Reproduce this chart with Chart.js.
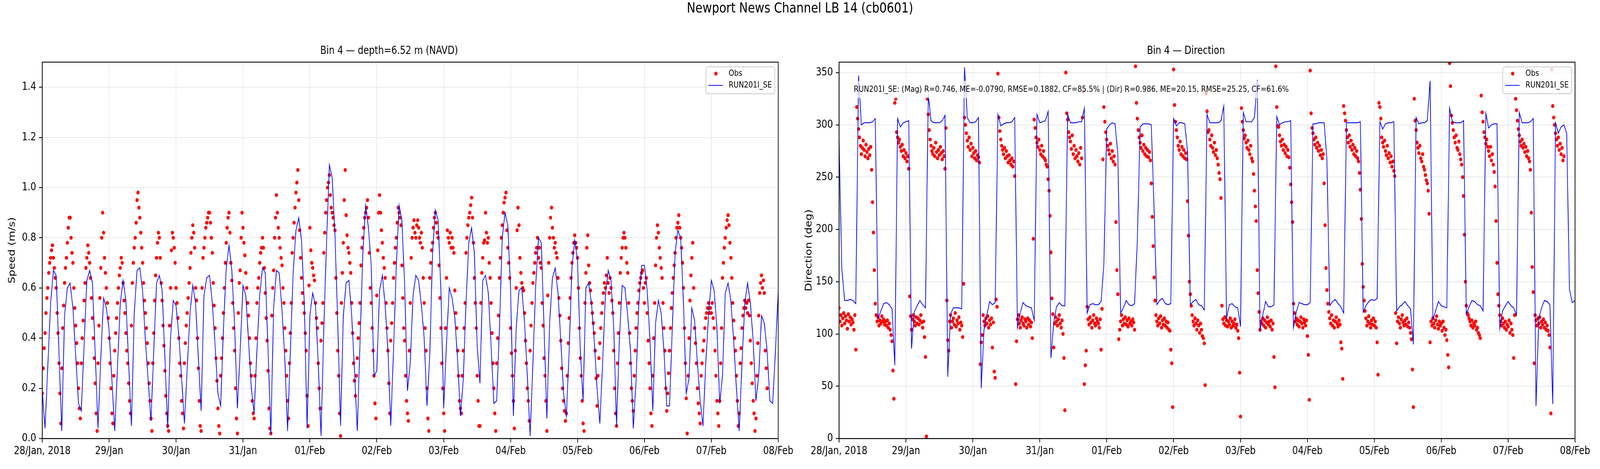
<!DOCTYPE html>
<html>
<head>
<meta charset="utf-8">
<script src="https://cdn.jsdelivr.net/npm/chart.js@4.4.1/dist/chart.umd.min.js"></script>
<style>
  html, body { margin: 0; padding: 0; background: #fff; overflow: hidden; }
  #fig { position: absolute; left: 0; top: 0; width: 5000px; height: 1200px; transform-origin: 0 0; font-family: 'DejaVu Sans', sans-serif; }
  #suptitle { position: absolute; left: 0; top: 0; width: 5000px; height: 40px; line-height: 40px; text-align: center; font-size: 36px; color: #000; z-index: 2; }
  .panel { position: absolute; top: 0; height: 1200px; }
</style>
</head>
<body>
<div id="fig">
  <div id="suptitle">Newport News Channel LB 14 (cb0601)</div>
  <div class="panel" style="left:0; width:2490px;"><canvas id="speedChart" width="2490" height="1200"></canvas></div>
  <div class="panel" style="left:2490px; width:2510px;"><canvas id="dirChart" width="2510" height="1200"></canvas></div>
</div>

<script>
// x axis is hours since 28/Jan/2018 00:00
const tickLabels = ['28/Jan, 2018', '29/Jan', '30/Jan', '31/Jan', '01/Feb', '02/Feb', '03/Feb', '04/Feb', '05/Feb', '06/Feb', '07/Feb', '08/Feb'];
const dayTicks = [0, 24, 48, 72, 96, 120, 144, 168, 192, 216, 240, 264];
const speedTicks = [0, 0.2, 0.4, 0.6, 0.8, 1.0, 1.2, 1.4];
const dirTicks = [0, 50, 100, 150, 200, 250, 300, 350];

const modelStartHour = 0;
const modelStepHours = 1;
const obsStartHour = 0;
const obsStepHours = 1 / 3;

const obsLabel = 'Obs';
const modelLabel = 'RUN201I_SE';
const statsLabel = 'RUN201I_SE: (Mag) R=0.746, ME=-0.0790, RMSE=0.1882, CF=85.5% | (Dir) R=0.986, ME=20.15, RMSE=25.25, CF=61.6%';

// model speed (m/s), hourly
const speedModel = [
  0.19,0.04,0.29,0.54,0.67,0.65,0.34,0.03,0.49,0.60,0.62,0.52,
  0.33,0.14,0.11,0.37,0.63,0.67,0.62,0.34,0.04,0.32,0.56,0.52,
  0.43,0.23,0.03,0.29,0.54,0.63,0.55,0.30,0.05,0.50,0.67,0.68,
  0.59,0.39,0.23,0.07,0.35,0.62,0.65,0.59,0.32,0.04,0.40,0.55,
  0.53,0.41,0.24,0.06,0.28,0.50,0.61,0.54,0.32,0.11,0.57,0.64,
  0.65,0.54,0.37,0.18,0.13,0.44,0.68,0.77,0.67,0.45,0.12,0.35,
  0.61,0.57,0.39,0.20,0.10,0.35,0.57,0.68,0.66,0.35,0.02,0.52,
  0.67,0.66,0.51,0.32,0.03,0.35,0.66,0.83,0.88,0.79,0.54,0.04,
  0.49,0.58,0.53,0.30,0.01,0.44,0.79,1.09,1.04,0.81,0.46,0.05,
  0.49,0.62,0.63,0.49,0.27,0.03,0.39,0.74,0.93,0.84,0.69,0.25,
  0.27,0.59,0.65,0.53,0.35,0.05,0.35,0.69,0.93,0.87,0.61,0.19,
  0.30,0.57,0.65,0.63,0.53,0.40,0.13,0.33,0.74,0.91,0.87,0.59,
  0.12,0.38,0.60,0.56,0.48,0.31,0.09,0.23,0.54,0.78,0.84,0.74,
  0.37,0.22,0.63,0.65,0.58,0.37,0.14,0.15,0.44,0.80,0.90,0.85,
  0.59,0.09,0.44,0.59,0.60,0.46,0.25,0.01,0.30,0.61,0.80,0.78,
  0.44,0.08,0.46,0.64,0.68,0.58,0.39,0.18,0.09,0.35,0.68,0.79,
  0.71,0.35,0.15,0.60,0.62,0.54,0.39,0.20,0.06,0.30,0.57,0.67,
  0.63,0.44,0.05,0.39,0.61,0.60,0.49,0.35,0.04,0.23,0.54,0.69,
  0.69,0.59,0.39,0.11,0.46,0.55,0.50,0.35,0.13,0.13,0.44,0.74,
  0.83,0.80,0.54,0.18,0.24,0.52,0.47,0.30,0.15,0.05,0.30,0.49,
  0.63,0.59,0.44,0.14,0.25,0.58,0.62,0.55,0.39,0.20,0.03,0.30,
  0.54,0.62,0.54,0.39,0.15,0.25,0.49,0.46,0.35,0.15,0.14,0.35,
  0.59
];

// observed speed (m/s), every 20 min
const speedObs = [
  0.18,0.28,0.36, 0.42,0.5,0.56, 0.6,0.66,0.7, 0.72,0.75,0.77, 0.72,0.68,0.64, 0.6,0.5,0.42,
  0.3,0.18,0.06, 0.28,0.44,0.53, 0.62,0.68,0.72, 0.78,0.84,0.88, 0.88,0.8,0.74, 0.7,0.6,0.52,
  0.45,0.38,0.3, 0.2,0.12,0.08, 0.3,0.4,0.47, 0.55,0.62,0.68, 0.72,0.77,0.74, 0.7,0.64,0.56,
  0.48,0.4,0.32, 0.22,0.1,0.03, 0.3,0.45,0.56, 0.68,0.8,0.9, 0.82,0.72,0.66, 0.6,0.54,0.48,
  0.4,0.3,0.2, 0.1,0.06,0.25, 0.35,0.42,0.48, 0.54,0.6,0.65, 0.68,0.72,0.7, 0.62,0.55,0.5,
  0.42,0.35,0.3, 0.22,0.15,0.1, 0.45,0.62,0.7, 0.76,0.8,0.86, 0.95,0.98,0.92, 0.88,0.82,0.76,
  0.7,0.62,0.55, 0.5,0.44,0.38, 0.3,0.22,0.15, 0.08,0.03,0.3, 0.42,0.55,0.65, 0.72,0.78,0.82,
  0.8,0.72,0.62, 0.55,0.45,0.37, 0.27,0.17,0.1, 0.05,0.03,0.45, 0.6,0.75,0.82, 0.8,0.76,0.7,
  0.6,0.54,0.48, 0.4,0.3,0.25, 0.15,0.1,0.04, 0.3,0.38,0.45, 0.5,0.56,0.62, 0.68,0.74,0.8,
  0.85,0.82,0.76, 0.6,0.55,0.4, 0.28,0.15,0.05, 0.03,0.6,0.72, 0.76,0.8,0.84, 0.86,0.88,0.9,
  0.9,0.86,0.8, 0.74,0.62,0.53, 0.44,0.32,0.23, 0.12,0.05,0.02, 0.25,0.32,0.4, 0.5,0.6,0.7,
  0.78,0.84,0.88, 0.9,0.82,0.7, 0.63,0.54,0.44, 0.35,0.2,0.08, 0.02,0.5,0.62, 0.67,0.8,0.9,
  0.84,0.78,0.73, 0.66,0.6,0.54, 0.49,0.4,0.3, 0.25,0.15,0.1, 0.08,0.25,0.4, 0.54,0.6,0.64,
  0.7,0.74,0.76, 0.8,0.76,0.68, 0.58,0.48,0.39, 0.27,0.12,0.04, 0.02,0.49,0.6, 0.67,0.8,0.88,
  0.97,0.9,0.84, 0.8,0.76,0.72, 0.69,0.6,0.54, 0.44,0.35,0.25, 0.15,0.08,0.3, 0.42,0.54,0.74,
  0.8,0.86,0.92, 0.98,1.02,1.07, 0.95,0.83,0.72, 0.64,0.58,0.54, 0.5,0.42,0.35, 0.17,0.05,0.61,
  0.84,0.75,0.7, 0.68,0.65,0.63, 0.54,0.48,0.44, 0.3,0.2,0.12, 0.39,0.46,0.54, 0.74,0.82,0.9,
  0.95,1.0,1.02, 1.05,0.97,0.92, 0.9,0.88,0.85, 0.83,0.64,0.5, 0.35,0.25,0.1, 0.01,0.54,0.66,
  0.78,0.95,1.07, 0.89,0.81,0.76, 0.74,0.7,0.66, 0.54,0.42,0.3, 0.23,0.17,0.25, 0.32,0.4,0.46,
  0.54,0.69,0.76, 0.8,0.84,0.88, 0.9,0.92,0.95, 0.88,0.74,0.6, 0.54,0.44,0.35, 0.25,0.14,0.08,
  0.57,0.75,0.9, 0.97,0.9,0.83, 0.78,0.72,0.68, 0.64,0.54,0.44, 0.35,0.22,0.1, 0.39,0.46,0.54,
  0.64,0.7,0.76, 0.8,0.86,0.92, 0.9,0.88,0.85, 0.69,0.56,0.44, 0.39,0.25,0.15, 0.1,0.07,0.35,
  0.54,0.72,0.8, 0.84,0.87,0.82, 0.8,0.85,0.87, 0.84,0.8,0.78, 0.82,0.76,0.64, 0.54,0.44,0.35,
  0.2,0.08,0.03, 0.64,0.7,0.75, 0.78,0.84,0.88, 0.9,0.86,0.82, 0.8,0.69,0.56, 0.44,0.3,0.2,
  0.1,0.03,0.44, 0.64,0.83,0.8, 0.78,0.82,0.76, 0.8,0.76,0.74, 0.59,0.5,0.44, 0.35,0.25,0.15,
  0.12,0.1,0.25, 0.35,0.44,0.54, 0.74,0.8,0.85, 0.88,0.9,0.93, 0.96,0.88,0.78, 0.64,0.54,0.44,
  0.25,0.15,0.05, 0.05,0.54,0.66, 0.72,0.78,0.79, 0.9,0.82,0.78, 0.8,0.7,0.64, 0.54,0.42,0.3,
  0.2,0.1,0.03, 0.3,0.4,0.49, 0.64,0.72,0.8, 0.85,0.9,0.94, 0.96,0.98,0.83, 0.76,0.7,0.64,
  0.44,0.34,0.25, 0.15,0.04,0.35, 0.6,0.83,0.92, 0.85,0.72,0.66, 0.62,0.6,0.59, 0.5,0.39,0.3,
  0.2,0.15,0.07, 0.35,0.45,0.54, 0.62,0.66,0.7, 0.74,0.76,0.8, 0.72,0.76,0.7, 0.68,0.54,0.45,
  0.32,0.25,0.15, 0.03,0.57,0.7, 0.8,0.88,0.92, 0.84,0.8,0.76, 0.78,0.74,0.72, 0.64,0.56,0.49,
  0.39,0.28,0.2, 0.15,0.11,0.07, 0.1,0.25,0.38, 0.48,0.56,0.64, 0.7,0.74,0.78, 0.81,0.78,0.76,
  0.72,0.6,0.44, 0.32,0.25,0.15, 0.06,0.03,0.54, 0.66,0.76,0.81, 0.69,0.62,0.59, 0.54,0.5,0.46,
  0.42,0.35,0.24, 0.13,0.25,0.32, 0.38,0.44,0.5, 0.54,0.58,0.62, 0.6,0.65,0.72, 0.62,0.58,0.64,
  0.6,0.55,0.5, 0.35,0.2,0.1, 0.05,0.3,0.42, 0.54,0.66,0.72, 0.76,0.8,0.82, 0.8,0.76,0.7,
  0.66,0.54,0.42, 0.3,0.2,0.15, 0.11,0.25,0.35, 0.44,0.5,0.54, 0.59,0.62,0.64, 0.66,0.67,0.6,
  0.54,0.62,0.64, 0.5,0.39,0.3, 0.2,0.1,0.05, 0.25,0.4,0.54, 0.69,0.8,0.85, 0.82,0.76,0.72,
  0.68,0.64,0.54, 0.44,0.35,0.2, 0.11,0.18,0.26, 0.35,0.44,0.52, 0.58,0.64,0.69, 0.74,0.8,0.84,
  0.86,0.89,0.84, 0.8,0.76,0.7, 0.6,0.44,0.3, 0.16,0.02,0.25, 0.4,0.55,0.65, 0.72,0.78,0.6,
  0.44,0.38,0.3, 0.2,0.14,0.1, 0.06,0.25,0.3, 0.35,0.39,0.44, 0.48,0.5,0.52, 0.54,0.5,0.52,
  0.5,0.54,0.48, 0.44,0.35,0.25, 0.15,0.1,0.05, 0.15,0.3,0.44, 0.64,0.7,0.76, 0.8,0.84,0.87,
  0.89,0.85,0.78, 0.72,0.64,0.54, 0.47,0.4,0.35, 0.25,0.15,0.05, 0.1,0.3,0.36, 0.44,0.49,0.52,
  0.55,0.52,0.54, 0.5,0.55,0.49, 0.39,0.3,0.22, 0.15,0.1,0.03, 0.08,0.25,0.38, 0.49,0.58,0.62,
  0.65,0.6,0.63, 0.58,0.35,0.28, 0.2
];

// model direction (deg), hourly
const dirModel = [
  285,162,132,132,133,132,129,347,300,302,302,302,
  303,306,115,122,129,130,128,124,70,306,298,302,
  303,304,86,121,127,132,128,125,329,304,302,302,
  302,304,309,59,119,125,125,125,124,355,307,302,
  302,303,307,48,104,118,131,128,130,310,299,301,
  302,302,303,307,106,120,130,127,126,125,113,310,
  302,303,304,313,77,111,126,130,127,127,310,302,
  302,302,303,303,316,120,128,129,128,128,131,167,
  296,300,302,301,272,120,125,132,128,127,129,190,
  298,301,301,301,300,220,128,132,134,129,128,129,
  306,299,302,302,301,275,128,131,133,128,127,123,
  310,302,302,302,302,304,318,115,128,129,126,125,
  107,312,303,303,303,307,343,104,118,131,126,126,
  128,308,300,302,303,303,304,106,121,130,129,128,
  128,130,301,301,302,302,302,267,127,131,133,129,
  126,120,302,302,302,302,302,303,121,127,131,133,
  132,134,303,296,301,302,302,303,122,126,128,131,
  127,124,90,307,301,302,302,304,342,114,122,131,
  127,126,125,316,303,302,302,302,304,119,126,132,
  131,128,127,122,311,297,300,301,301,105,122,127,
  131,127,125,118,312,302,302,302,303,306,31,115,
  125,132,131,128,33,302,292,298,300,292,143,130,
  132
];

// observed direction (deg), every 20 min
const dirObs = [
  125,112,118, 108,115,120, 110,117,113, 105,119,112, 116,109,114, 111,104,118,
  85,317,306, 296,288,280, 272,278,285, 276,270,281, 274,268,277, 271,279,257,
  226,197,161, 129,118,112, 116,108,113, 110,117,112, 114,109,112, 108,113,106,
  110,104,99, 93,65,38, 321,325,293, 288,283,286, 279,275,281, 270,276,268,
  273,265,270, 258,136,117, 104,114,118, 112,108,116, 110,115,109, 113,118,111,
  106,112,97, 78,2,325, 310,295,286, 280,275,272, 278,270,283, 274,268,276,
  271,279,273, 267,275,270, 258,297,132, 94,84,112, 118,106,112, 115,109,120,
  107,113,110, 116,104,111, 108,97,148, 307,300,292, 285,279,288, 276,282,270,
  278,273,268, 275,266,271, 269,264,71, 92,99,118, 112,108,115, 110,117,106,
  113,109,115, 87,111,64, 58,133,126, 349,307,294, 286,280,276, 272,278,268,
  275,270,264, 271,266,262, 268,260,265, 251,52,93, 114,118,110, 106,113,116,
  110,108,114, 112,106,115, 109,113,107, 111,96,191, 305,297,288, 283,279,286,
  276,272,280, 270,275,268, 266,262,260, 248,237,213, 178,134,119, 87,110,116,
  112,108,114, 118,110,106, 113,100,77, 27,350,311, 305,293,288, 284,277,290,
  272,280,268, 276,270,265, 273,262,278, 268,307,332, 52,70,84, 126,114,109,
  116,111,106, 113,118,110, 108,115,112, 110,106,114, 85,124,267, 317,303,293,
  286,280,276, 272,282,268, 275,265,270, 262,207,161, 138,95,104, 112,118,108,
  114,110,116, 109,113,107, 115,110,112, 108,114,111, 104,356,321, 306,295,288,
  283,278,290, 275,281,272, 278,270,276, 269,274,266, 244,212,184, 154,132,118,
  112,108,115, 110,117,106, 113,109,115, 108,112,106, 111,104,103, 85,72,30,
  353,319,303, 295,288,280, 276,284,272, 279,270,276, 268,273,267, 227,194,150,
  138,127,118, 112,108,115, 110,104,113, 108,101,110, 104,98,96, 91,51,330,
  313,293,295, 286,280,290, 278,274,283, 271,276,268, 262,254,248, 230,127,114,
  110,116,108, 113,107,112, 109,115,106, 112,108,110, 114,106,109, 103,96,63,
  21,316,303, 295,287,290, 283,278,285, 276,272,280, 268,265,253, 237,222,208,
  161,139,121, 104,112,110, 115,108,113, 106,111,116, 109,112,107, 113,104,110,
  78,49,356, 317,299,298, 290,284,280, 286,276,281, 273,279,270, 276,269,259,
  243,226,207, 129,120,112, 115,109,113, 107,112,116, 110,106,114, 111,108,113,
  98,80,37, 352,311,297, 292,286,281, 288,278,283, 275,280,271, 276,268,272,
  244,204,163, 142,129,121, 115,110,118, 108,113,106, 112,116,110, 107,113,109,
  92,86,57, 318,311,304, 295,288,283, 290,279,285, 276,281,272, 278,270,275,
  268,265,254, 238,210,167, 145,132,122, 115,108,112, 117,110,106, 113,109,115,
  108,112,106, 92,61,321, 317,306,288, 283,279,285, 275,271,280, 268,273,264,
  270,260,265, 256,251,120, 91,112,116, 110,106,114, 118,111,108, 113,109,115,
  107,111,106, 101,95,66, 30,325,304, 295,283,278, 273,280,268, 265,272,260,
  257,252,247, 244,237,215, 92,112,108, 115,110,106, 113,117,109, 105,112,108,
  110,103,112, 106,99,104, 94,80,68, 359,337,309, 302,295,288, 283,290,278,
  276,284,272, 267,262,250, 232,195,150, 127,120,118, 115,112,108, 113,106,110,
  108,112,104, 106,101,99, 96,328,312, 303,293,288, 282,286,279, 275,270,279,
  266,272,262, 255,241,208, 168,138,127, 118,112,108, 115,110,106, 112,104,109,
  107,113,101, 110,104,99, 77,118,325, 314,304,296, 290,284,280, 286,278,282,
  274,279,270, 275,268,265, 257,216,164, 140,72,118, 113,108,115, 110,116,106,
  112,109,114, 106,111,104, 108,103,99, 87,24,353, 318,307,300, 292,286,280,
  288,276,282, 272,278,266, 270
];

const obsColor = '#ff0000';
const modelColor = '#0000ff';
const gridColor = '#e8e8e8';

// the figure is laid out at 5000x1200; squeeze it to the window width if the window is narrower
const fig = document.getElementById('fig');
const fitScale = Math.min(1, window.innerWidth / 5000);
fig.style.transform = 'scaleX(' + fitScale + ')';

Chart.defaults.font.family = "'DejaVu Sans', sans-serif";
Chart.defaults.color = '#000';

function toPoints(values, start, step) {
  return values.map((v, i) => ({ x: start + i * step, y: v }));
}

// box round the plot, like the matplotlib spines
const frame = {
  id: 'frame',
  afterDatasetsDraw(chart) {
    const { ctx, chartArea: a } = chart;
    ctx.save();
    ctx.strokeStyle = '#000';
    ctx.lineWidth = 2.2;
    ctx.strokeRect(a.left, a.top, a.right - a.left, a.bottom - a.top);
    ctx.restore();
  }
};

const legendBox = {
  id: 'legendBox',
  afterDraw(chart) {
    const { ctx, chartArea: a } = chart;
    const w = 215, h = 69;
    const x = a.right - 11 - w, y = a.top + 12;
    ctx.save();
    ctx.beginPath();
    ctx.roundRect(x, y, w, h, 6);
    ctx.fillStyle = 'rgba(255,255,255,0.8)';
    ctx.fill();
    ctx.lineWidth = 2.2;
    ctx.strokeStyle = '#cccccc';
    ctx.stroke();

    ctx.fillStyle = obsColor;
    ctx.beginPath();
    ctx.arc(x + 31, y + 17.5, 5, 0, Math.PI * 2);
    ctx.fill();

    ctx.strokeStyle = modelColor;
    ctx.lineWidth = 2.2;
    ctx.beginPath();
    ctx.moveTo(x + 7.5, y + 47.5);
    ctx.lineTo(x + 53, y + 47.5);
    ctx.stroke();

    ctx.fillStyle = '#000';
    ctx.font = "22px 'DejaVu Sans'";
    ctx.textBaseline = 'middle';
    ctx.fillText(obsLabel, x + 71, y + 17.5);
    ctx.fillText(modelLabel, x + 71, y + 47.5);
    ctx.restore();
  }
};

const statsBox = {
  id: 'statsBox',
  afterDraw(chart, args, opts) {
    if (!opts || !opts.text) return;
    const { ctx, chartArea: a } = chart;
    ctx.save();
    ctx.font = "22px 'DejaVu Sans'";
    const x = a.left + 46, yMid = a.top + 70;
    const w = ctx.measureText(opts.text).width;
    ctx.fillStyle = 'rgba(255,255,255,0.7)';
    ctx.fillRect(x - 7, yMid - 22, w + 14, 44);
    ctx.fillStyle = '#000';
    ctx.textBaseline = 'middle';
    ctx.fillText(opts.text, x, yMid);
    ctx.restore();
  }
};

function makeChart(canvasId, cfg) {
  return new Chart(document.getElementById(canvasId), {
    type: 'scatter',
    data: {
      datasets: [
        {
          label: modelLabel,
          data: toPoints(cfg.model, modelStartHour, modelStepHours),
          showLine: true,
          borderColor: modelColor,
          borderWidth: 2.2,
          pointRadius: 0,
          tension: 0,
          order: 1,
          clip: 0
        },
        {
          label: obsLabel,
          data: toPoints(cfg.obs, obsStartHour, obsStepHours),
          backgroundColor: obsColor,
          borderWidth: 0,
          pointRadius: 5,
          order: 2,
          clip: 0
        }
      ]
    },
    options: {
      responsive: false,
      animation: false,
      devicePixelRatio: 1,
      events: [],
      layout: { padding: { left: 0, right: cfg.padRight, top: 0, bottom: 0 } },
      plugins: {
        legend: { display: false },
        tooltip: { enabled: false },
        title: {
          display: true,
          text: cfg.title,
          color: '#000',
          font: { size: 28, weight: 'normal' },
          padding: { top: 114, bottom: 11.4 }
        },
        statsBox: { text: cfg.stats || '' }
      },
      scales: {
        x: {
          type: 'linear',
          min: 0,
          max: 264,
          afterBuildTicks: s => { s.ticks = dayTicks.map(v => ({ value: v })); },
          afterFit: s => { s.height = 78; },
          ticks: {
            autoSkip: false,
            maxRotation: 0,
            padding: 6,
            font: { size: 28 },
            callback: (v, i) => tickLabels[i]
          },
          grid: { color: gridColor, lineWidth: 2, tickColor: '#000', tickLength: 10, tickWidth: 2.2 },
          border: { color: '#000', width: 2.2 }
        },
        y: {
          type: 'linear',
          min: 0,
          max: cfg.yMax,
          afterBuildTicks: s => { s.ticks = cfg.yTicks.map(v => ({ value: v })); },
          afterFit: s => { s.width = 132; },
          ticks: {
            padding: 9,
            font: { size: 28 },
            callback: cfg.yFormat
          },
          title: {
            display: true,
            text: cfg.yTitle,
            font: { size: 28 },
            padding: { top: 22, bottom: 0 }
          },
          grid: { color: gridColor, lineWidth: 2, tickColor: '#000', tickLength: 10, tickWidth: 2.2 },
          border: { color: '#000', width: 2.2 }
        }
      }
    },
    plugins: [frame, legendBox, statsBox]
  });
}

const speedChart = makeChart('speedChart', {
  model: speedModel,
  obs: speedObs,
  title: 'Bin 4 \u2014 depth=6.52 m (NAVD)',
  yTitle: 'Speed (m/s)',
  yMax: 1.5,
  yTicks: speedTicks,
  yFormat: v => v.toFixed(1),
  padRight: 58
});

const dirChart = makeChart('dirChart', {
  model: dirModel,
  obs: dirObs,
  title: 'Bin 4 \u2014 Direction',
  yTitle: 'Direction (deg)',
  yMax: 360,
  yTicks: dirTicks,
  yFormat: v => String(v),
  padRight: 78,
  stats: statsLabel
});
</script>
</body>
</html>
